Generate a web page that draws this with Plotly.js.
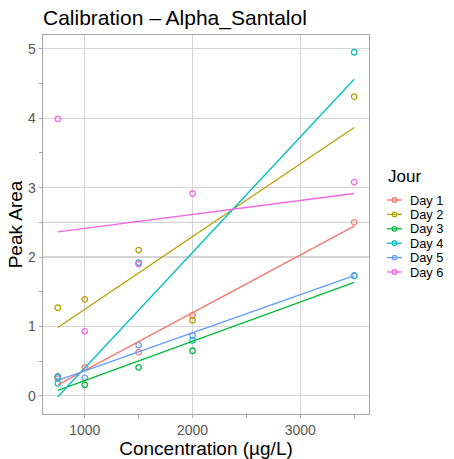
<!DOCTYPE html>
<html>
<head>
<meta charset="utf-8">
<script src="https://cdn.plot.ly/plotly-3.0.1.min.js"></script>
<style>html,body{margin:0;padding:0;background:#fff;}#chart{width:454px;height:459px;}</style>
</head>
<body>
<div id="chart"></div>
<script>
// ---- data ----
const concentrations = [750, 1000, 1500, 2000, 3500];
const days = ["Day 1", "Day 2", "Day 3", "Day 4", "Day 5", "Day 6"];
const day1 = [0.25, 0.41, 0.63, 1.16, 2.50];
const day2 = [1.27, 1.39, 2.10, 1.09, 4.31];
const day3 = [0.28, 0.16, 0.41, 0.65, 1.73];
const day4 = [0.18, null, 1.92, 0.80, 4.95];
const day5 = [0.27, 0.26, 0.73, 0.87, 1.735];
const day6 = [3.99, 0.93, 1.90, 2.915, 3.08];
const xTicks = [1000, 2000, 3000];
const yTicks = [0, 1, 2, 3, 4, 5];
const refLineY = 2.5;
const colors = ["#F8766D", "#B79F00", "#00BA38", "#00BFC4", "#619CFF", "#F564E3"];

const series = [day1, day2, day3, day4, day5, day6];
const FONT = "Liberation Sans, Arial, sans-serif";

function fit(xs, ys) {
  const px = [], py = [];
  xs.forEach((x, i) => { if (ys[i] !== null) { px.push(x); py.push(ys[i]); } });
  const n = px.length;
  const mx = px.reduce((a, b) => a + b, 0) / n;
  const my = py.reduce((a, b) => a + b, 0) / n;
  let sxx = 0, sxy = 0;
  for (let i = 0; i < n; i++) { sxx += (px[i] - mx) ** 2; sxy += (px[i] - mx) * (py[i] - my); }
  const b = sxy / sxx, a = my - b * mx;
  const x0 = Math.min(...px), x1 = Math.max(...px);
  return { x: [x0, x1], y: [a + b * x0, a + b * x1] };
}

const traces = [];
const fits = series.map(s => fit(concentrations, s));
series.forEach((s, i) => {
  traces.push({
    x: concentrations, y: s, type: "scatter", mode: "markers", showlegend: false,
    marker: { symbol: "circle-open", size: 5.5, color: colors[i], line: { width: 1.3, color: colors[i] } },
    hoverinfo: "skip"
  });
});
fits.forEach((f, i) => {
  traces.push({
    x: f.x, y: f.y, type: "scatter", mode: "lines", showlegend: false,
    line: { color: colors[i], width: 1.3 }, hoverinfo: "skip"
  });
});

// ranges with 5% expansion (like ggplot)
const allX = concentrations;
const allY = [];
series.forEach(s => s.forEach(v => { if (v !== null) allY.push(v); }));
fits.forEach(f => f.y.forEach(v => allY.push(v)));
const xmin = Math.min(...allX), xmax = Math.max(...allX);
const ymin = Math.min(...allY), ymax = Math.max(...allY);
const xr = [xmin - 0.05 * (xmax - xmin), xmax + 0.05 * (xmax - xmin)];
const yr = [ymin - 0.05 * (ymax - ymin), ymax + 0.05 * (ymax - ymin)];

// plot box in pixels
const W = 454, H = 459, L = 43, R = 369, T = 35, B = 414;
const pw = R - L, ph = B - T;
const px2x = p => (p - L) / pw;
const py2y = p => (B - p) / ph;

const shapes = [];
const annotations = [];
// grid line at 2.5 seen in the reference
shapes.push({ type: "line", xref: "paper", yref: "y", x0: 0, x1: 1, y0: refLineY, y1: refLineY,
  line: { color: "#D4D4D4", width: 1.1 }, layer: "below" });

// custom legend
annotations.push({
  xref: "paper", yref: "paper", x: px2x(386), y: py2y(176), xanchor: "left", yanchor: "middle",
  text: "Jour", showarrow: false, font: { family: FONT, size: 17, color: "#000" }
});
days.forEach((d, i) => {
  const cy = 200 + i * 14.4;
  shapes.push({ type: "line", xref: "paper", yref: "paper", x0: px2x(387), x1: px2x(402), y0: py2y(cy), y1: py2y(cy),
    line: { color: colors[i], width: 1.3 } });
  shapes.push({ type: "circle", xref: "paper", yref: "paper", xsizemode: "pixel", ysizemode: "pixel",
    xanchor: px2x(394.5), yanchor: py2y(cy), x0: -2.3, x1: 2.3, y0: -2.3, y1: 2.3,
    line: { color: colors[i], width: 1.2 }, fillcolor: "rgba(0,0,0,0)" });
  annotations.push({
    xref: "paper", yref: "paper", x: px2x(409), y: py2y(cy), xanchor: "left", yanchor: "middle",
    text: d, showarrow: false, borderpad: 0,
    font: { family: FONT, size: 12.8, color: "#000" }
  });
});

const axisCommon = {
  showgrid: true, gridcolor: "#D4D4D4", gridwidth: 1.1,
  zeroline: false, showline: true, mirror: true, linecolor: "#A6A6A6", linewidth: 1.4,
  ticks: "outside", ticklen: 3, tickcolor: "#A6A6A6", tickwidth: 1,
  tickfont: { family: FONT, size: 14, color: "#555555" },
  minor: { ticks: "outside", ticklen: 3, tickcolor: "#A6A6A6", showgrid: false }
};

const layout = {
  width: W, height: H,
  margin: { l: L, r: W - R, t: T, b: H - B, pad: 0 },
  paper_bgcolor: "#fff", plot_bgcolor: "#fff",
  showlegend: false,
  title: { text: "Calibration \u2013 Alpha_Santalol", xref: "paper", x: 0, xanchor: "left",
    yref: "container", y: 1 - 18 / H, yanchor: "middle",
    font: { family: FONT, size: 21, color: "#000" } },
  xaxis: Object.assign({}, axisCommon, {
    range: xr, tickvals: xTicks, ticktext: xTicks.map(String),
    minor: Object.assign({}, axisCommon.minor, { dtick: 500, tick0: 0 }),
    title: { text: "Concentration (\u00b5g/L)", font: { family: FONT, size: 19, color: "#000" }, standoff: 0 }
  }),
  yaxis: Object.assign({}, axisCommon, {
    range: yr, tickvals: yTicks, ticktext: yTicks.map(String),
    minor: Object.assign({}, axisCommon.minor, { dtick: 0.5, tick0: 0 }),
    title: { text: "Peak Area", font: { family: FONT, size: 19, color: "#000" }, standoff: 0 }
  }),
  shapes: shapes,
  annotations: annotations
};

Plotly.newPlot("chart", traces, layout, { displayModeBar: false, staticPlot: true });
</script>
</body>
</html>
